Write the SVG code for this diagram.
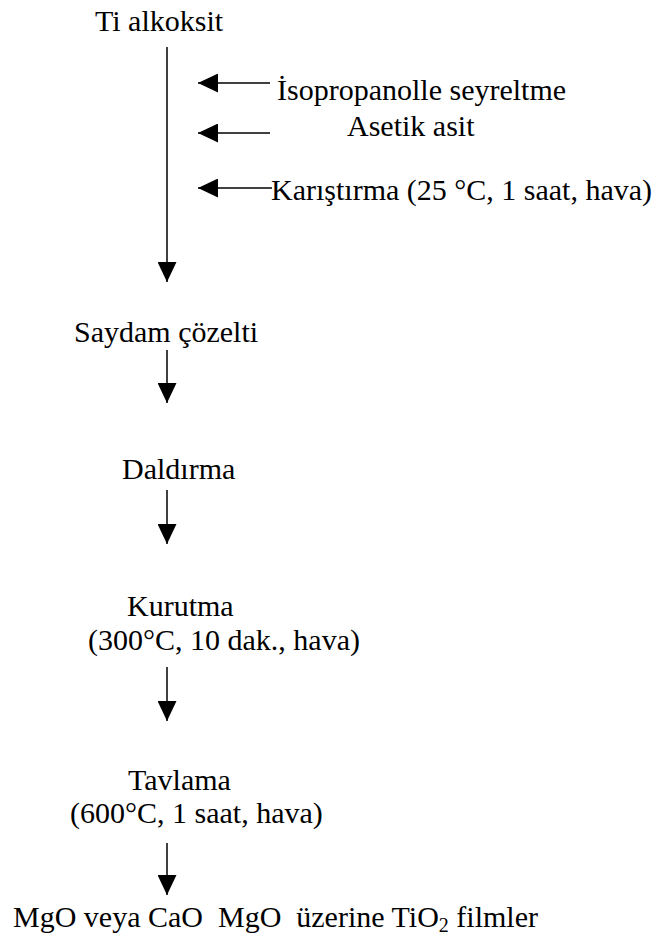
<svg xmlns="http://www.w3.org/2000/svg" width="658" height="937" viewBox="0 0 658 937">
  <style>
    text { font-family: "Liberation Serif", "Times New Roman", serif; font-size: 30px; fill: #000; white-space: pre; }
    .sub { font-size: 20px; }
    .conn { stroke: #000; stroke-width: 1.5; fill: none; marker-end: url(#ah); }
  </style>
  <defs>
    <marker id="ah" markerUnits="userSpaceOnUse" markerWidth="20" markerHeight="19" refX="20" refY="9.5" orient="auto">
      <path d="M0,0 L20,9.5 L0,19 Z" fill="#000"/>
    </marker>
  </defs>
  <rect width="658" height="937" fill="#fff"/>

  <g id="connectors">
    <line class="conn" x1="167" y1="47" x2="167" y2="282"/>
    <line class="conn" x1="270" y1="83" x2="198" y2="83"/>
    <line class="conn" x1="270" y1="133" x2="198" y2="133"/>
    <line class="conn" x1="272" y1="188" x2="198" y2="188"/>
    <line class="conn" x1="167" y1="350" x2="167" y2="403"/>
    <line class="conn" x1="167" y1="490" x2="167" y2="544"/>
    <line class="conn" x1="167" y1="667" x2="167" y2="721"/>
    <line class="conn" x1="167" y1="843" x2="167" y2="895"/>
  </g>

  <g id="ti-alkoksit"><text x="95" y="31">Ti alkoksit</text></g>
  <g id="isopropanol"><text x="277" y="100">İsopropanolle seyreltme</text></g>
  <g id="asetik-asit"><text x="347" y="136">Asetik asit</text></g>
  <g id="karistirma"><text x="271" y="200">Karıştırma (25 °C, 1 saat, hava)</text></g>
  <g id="saydam"><text x="74" y="342">Saydam çözelti</text></g>
  <g id="daldirma"><text x="122" y="479">Daldırma</text></g>
  <g id="kurutma">
    <text x="127" y="616">Kurutma</text>
    <text x="88" y="650">(300°C, 10 dak., hava)</text>
  </g>
  <g id="tavlama">
    <text x="128" y="790">Tavlama</text>
    <text x="70" y="823">(600°C, 1 saat, hava)</text>
  </g>
  <g id="sonuc"><text x="13" y="927">MgO veya CaO  MgO  üzerine TiO<tspan class="sub" dy="5">2</tspan><tspan dy="-5"> filmler</tspan></text></g>
</svg>
